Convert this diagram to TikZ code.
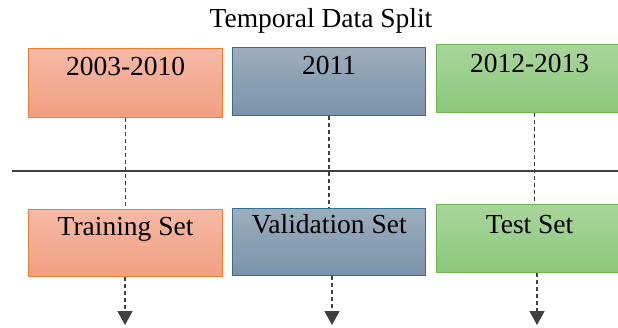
\documentclass[tikz,border=0pt]{standalone}
\usepackage{fontspec}
\setmainfont{Liberation Serif}
\usetikzlibrary{arrows.meta}
\definecolor{otop}{HTML}{F5B9A6}
\definecolor{obot}{HTML}{F29E80}
\definecolor{oline}{HTML}{ED7D31}
\definecolor{btop}{HTML}{9DADBC}
\definecolor{bbot}{HTML}{7A93AB}
\definecolor{bline}{HTML}{31708E}
\definecolor{gtop}{HTML}{A9D59B}
\definecolor{gbot}{HTML}{8BC87A}
\definecolor{gline}{HTML}{6CB650}
\tikzset{
  boxbase/.style={draw, line width=1.2pt, inner sep=0pt, anchor=north west,
    font=\fontsize{27.5}{30}\selectfont},
  obox/.style={boxbase, draw=oline, top color=otop, bottom color=obot, minimum width=194pt},
  bbox/.style={boxbase, draw=bline, top color=btop, bottom color=bbot, minimum width=193pt},
  gbox/.style={boxbase, draw=gline, top color=gtop, bottom color=gbot, minimum width=186pt},
  dashline/.style={line width=1.5pt, black!75, dash pattern=on 4pt off 3pt},
  arrowline/.style={dashline, -{Triangle[width=15pt,length=14pt]}},
  splitline/.style={line width=1.5pt, black!75}
}
\begin{document}
\begin{tikzpicture}[x=1pt,y=-1pt]
\useasboundingbox[fill=white] (0,0) rectangle (618,327);
\node[anchor=base, font=\fontsize{27.5}{30}\selectfont] (title) at (321,27) {Temporal Data Split};
% year boxes
\node[obox, text height=27pt, text depth=42pt] (y1) at (28,48) {2003-2010};
\node[bbox, text height=27pt, text depth=41pt] (y2) at (232,47) {2011};
\node[gbox, text height=28pt, text depth=40pt] (y3) at (436,44) {2012-2013};
% separating line
\coordinate (hl) at (12,171);
\coordinate (hr) at (618,171);
\draw[splitline] (hl) -- (hr);
% set boxes
\node[obox, text height=26pt, text depth=41pt] (s1) at (28,209) {Training Set};
\node[bbox, text height=25pt, text depth=42pt] (s2) at (232,208) {Validation Set};
\node[gbox, text height=29pt, text depth=39pt] (s3) at (436,204) {Test Set};
% dashed connectors
\draw[dashline] (y1.south) -- (s1.north);
\draw[dashline] (y2.south) -- (s2.north);
\draw[dashline] ([xshift=5pt]y3.south) -- ([xshift=5pt]s3.north);
% arrows
\coordinate (a1) at (125,325);
\coordinate (a2) at (332,325);
\coordinate (a3) at (537,325);
\draw[arrowline] (s1.south -| a1) -- (a1);
\draw[arrowline] (s2.south -| a2) -- (a2);
\draw[arrowline] (s3.south -| a3) -- (a3);
\end{tikzpicture}
\end{document}
